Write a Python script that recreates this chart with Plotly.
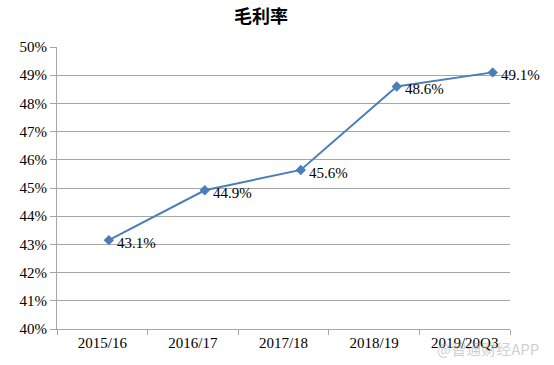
import plotly.graph_objects as go

categories = ["2015/16", "2016/17", "2017/18", "2018/19", "2019/20Q3"]
margin_pct = [43.15, 44.92, 45.64, 48.6, 49.1]
labels = ["43.1%", "44.9%", "45.6%", "48.6%", "49.1%"]
y_ticks = list(range(40, 51))

serif = "Liberation Serif, Times New Roman, serif"
line_color = "#4A7EBB"
grid_color = "#A6A6A6"

W, H = 554, 365
ML, MR, MT, MB = 57, 44, 47, 36
plot_w = W - ML - MR

fig = go.Figure()
# category trace to set up the category axis
fig.add_trace(go.Scatter(x=categories, y=[None]*len(categories), xaxis="x", yaxis="y",
                         showlegend=False, hoverinfo="skip"))
idx = list(range(len(categories)))
fig.add_trace(go.Scatter(
    x=idx, y=margin_pct, xaxis="x2", yaxis="y",
    mode="lines+markers",
    line=dict(color=line_color, width=2),
    marker=dict(symbol="diamond", size=8, color=line_color),
    showlegend=False,
))
for i, (v, t) in enumerate(zip(margin_pct, labels)):
    fig.add_annotation(x=i, y=v, xref="x2", yref="y", text=t, showarrow=False,
                       xanchor="left", yanchor="middle", xshift=6, yshift=-3,
                       font=dict(family=serif, size=15, color="#000000"))

fig.add_annotation(x=(488 - ML) / plot_w, y=-0.07, xref="paper", yref="paper",
                   text="@智通财经APP", showarrow=False, xanchor="center", yanchor="middle",
                   font=dict(family="Noto Sans CJK SC", size=15, color="rgba(160,160,160,0.5)"))

fig.update_layout(
    width=W, height=H,
    margin=dict(l=ML, r=MR, t=MT, b=MB),
    paper_bgcolor="white", plot_bgcolor="white",
    title=dict(text="<b>毛利率</b>", x=(261 - ML) / plot_w, xref="paper", xanchor="center",
               y=0.955, yanchor="middle",
               font=dict(family="Noto Sans CJK SC", size=18, color="#000000")),
    xaxis=dict(type="category", categoryorder="array", categoryarray=categories,
               range=[-0.5, 4.5], showgrid=False, showline=True, linecolor=grid_color,
               linewidth=1, ticks="outside", tickson="boundaries", ticklen=5,
               tickcolor=grid_color, tickfont=dict(family=serif, size=15, color="#000000"),
               zeroline=False, fixedrange=True),
    xaxis2=dict(overlaying="x", range=[-0.54, 4.18], visible=False, showgrid=False,
                zeroline=False),
    yaxis=dict(range=[40, 50], tickvals=y_ticks, ticktext=[f"{v}%" for v in y_ticks],
               showgrid=True, gridcolor=grid_color, gridwidth=1, showline=True,
               linecolor=grid_color, linewidth=1, ticks="outside", ticklen=6,
               tickcolor=grid_color, tickfont=dict(family=serif, size=15, color="#000000"),
               zeroline=False),
)

fig.write_html("out.html")
